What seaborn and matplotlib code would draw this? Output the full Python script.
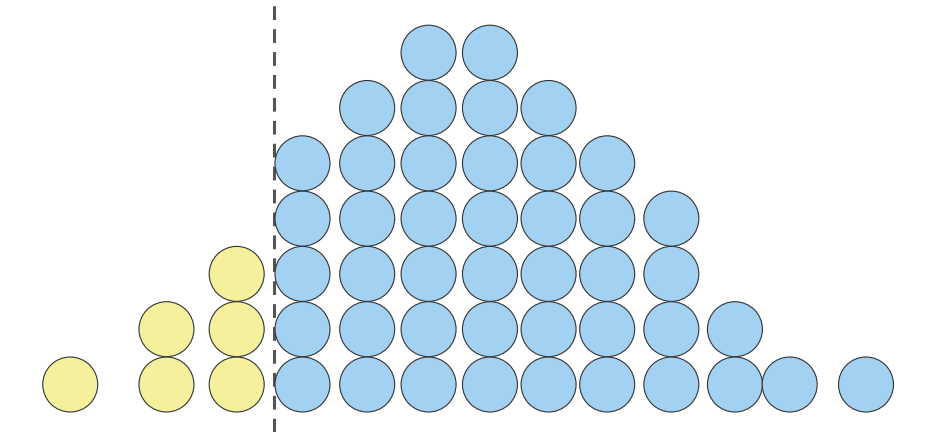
import numpy as np
import pandas as pd
import matplotlib
matplotlib.use('Agg')
import matplotlib.pyplot as plt
import seaborn as sns

# dot columns: position (in dot diameters) and how many dots are stacked
positions = [1.27, 3.01, 4.28, 5.47, 6.64, 7.75, 8.86, 9.92, 10.98, 12.14, 13.29, 14.28, 15.66]
counts = [1, 2, 3, 5, 6, 7, 7, 6, 5, 4, 2, 1, 1]
threshold = 4.95

# one row per dot, stacked from 0.5 up
rows = []
for x, n in zip(positions, counts):
    for i in range(n):
        rows.append({'x': x, 'y': i + 0.5, 'side': 'below' if x < threshold else 'above'})
df = pd.DataFrame(rows)

sns.set_theme(style='white')

fig = plt.figure(figsize=(9.36, 4.32), dpi=100)
ax = fig.add_axes([0, 0, 1, 1])

unit = 55.3  # px per dot diameter
dot_pt = 55 * 72 / 100
sns.scatterplot(data=df, x='x', y='y', hue='side',
                palette={'below': '#f5f09b', 'above': '#a3d1f1'},
                s=dot_pt ** 2, edgecolor='#333333', linewidth=0.8,
                legend=False, ax=ax, zorder=3)

ax.axvline(threshold, color='#555555', linestyle=(0, (4.5, 3)), linewidth=2.2, zorder=2)

ax.set_xlim(0, 936 / unit)
ylo = 0.5 - 47.5 / unit
ax.set_ylim(ylo, ylo + 432 / unit)
ax.axis('off')

fig.savefig('out.png', dpi=100)
